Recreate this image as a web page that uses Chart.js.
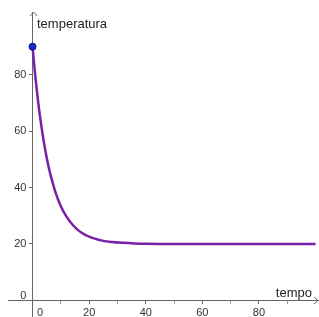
<!DOCTYPE html>
<html>
<head>
<meta charset="utf-8">
<style>
  html, body { margin: 0; padding: 0; background: #ffffff; }
  #wrap { width: 319px; height: 317px; position: relative; }
</style>
<script src="https://cdn.jsdelivr.net/npm/chart.js@4/dist/chart.umd.min.js"></script>
</head>
<body>
<div id="wrap"><canvas id="c"></canvas></div>
<script>
// Data
const tempo = [0, 1, 2, 3, 4, 5, 6, 7, 8, 10, 12, 14, 16, 18, 20, 22, 25, 28, 32, 36, 40, 50, 60, 70, 80, 90, 100];
const temperatura = [90, 79.4, 70.3, 62.7, 56.2, 50.7, 46.0, 42.1, 38.7, 33.4, 29.7, 27.0, 25.0, 23.6, 22.6, 21.9, 21.1, 20.7, 20.4, 20.2, 20.1, 20.0, 20.0, 20.0, 20.0, 20.0, 20.0];
const puntoTempo = [0];
const puntoTemperatura = [90];
const xTickValues = [0, 10, 20, 30, 40, 50, 60, 70, 80, 90];
const xTickLabels = ['     0', '', '20', '', '40', '', '60', '', '80', ''];
const yTickValues = [0, 20, 40, 60, 80];
const yTickLabels = [['0  ', ''], '20  ', '40  ', '60  ', '80  '];
const xTitle = 'tempo';
const yTitle = 'temperatura';

const AXIS = '#666666';
const FONT = "'Liberation Sans', Arial, sans-serif";

const curve = tempo.map((t, i) => ({ x: t, y: temperatura[i] }));
const punto = puntoTempo.map((t, i) => ({ x: t, y: puntoTemperatura[i] }));

function noSpace(s, horizontal) {
  if (horizontal) { s.height = 0; } else { s.width = 0; }
  s.paddingLeft = 0; s.paddingRight = 0; s.paddingTop = 0; s.paddingBottom = 0;
}

const decor = {
  id: 'decor',
  afterDraw(chart) {
    const ctx = chart.ctx;
    const xs = chart.scales.x, ys = chart.scales.y;
    const ca = chart.chartArea;
    const ox = Math.round(xs.getPixelForValue(0)) + 0.5;
    const oy = Math.round(ys.getPixelForValue(0)) + 0.5;
    ctx.save();
    ctx.strokeStyle = AXIS;
    ctx.lineWidth = 1;
    // arrow at top of y axis
    ctx.beginPath();
    ctx.moveTo(ox - 3.5, ca.top + 4);
    ctx.lineTo(ox, ca.top);
    ctx.lineTo(ox + 3.5, ca.top + 4);
    ctx.stroke();
    // arrow at right of x axis
    ctx.beginPath();
    ctx.moveTo(ca.right - 5, oy - 3.5);
    ctx.lineTo(ca.right - 1, oy);
    ctx.lineTo(ca.right - 5, oy + 3.5);
    ctx.stroke();
    // axis titles
    ctx.fillStyle = '#222222';
    ctx.font = '13px ' + FONT;
    ctx.textBaseline = 'alphabetic';
    ctx.textAlign = 'left';
    ctx.fillText(yTitle, ox + 3.5, 28);
    ctx.textAlign = 'right';
    ctx.fillText(xTitle, ca.right - 7, oy - 3.5);
    ctx.restore();
  }
};

new Chart(document.getElementById('c'), {
  type: 'scatter',
  data: {
    datasets: [
      {
        data: curve,
        showLine: true,
        borderColor: '#7b1fa8',
        borderWidth: 2.5,
        pointRadius: 0,
        cubicInterpolationMode: 'monotone',
        fill: false,
        order: 2
      },
      {
        data: punto,
        showLine: false,
        pointRadius: 3.5,
        pointBackgroundColor: '#1b2bd4',
        pointBorderColor: '#0b0b66',
        pointBorderWidth: 1,
        clip: false,
        order: 1
      }
    ]
  },
  options: {
    responsive: true,
    maintainAspectRatio: false,
    animation: false,
    devicePixelRatio: 1,
    layout: { autoPadding: false, padding: { left: 8, top: 12, right: 0, bottom: 0 } },
    plugins: { legend: { display: false }, tooltip: { enabled: false }, title: { display: false } },
    events: [],
    scales: {
      x: {
        type: 'linear',
        min: -8.66,
        max: 101.2,
        position: { y: 0 },
        afterFit(s) { noSpace(s, true); },
        afterBuildTicks(s) { s.ticks = xTickValues.map(v => ({ value: v })); },
        grid: {
          drawOnChartArea: false,
          drawTicks: true,
          tickLength: 3,
          tickColor: ctx => (ctx.tick && ctx.tick.value % 20 === 0) ? AXIS : '#999999'
        },
        border: { display: true, color: AXIS, width: 1 },
        ticks: {
          autoSkip: false,
          maxRotation: 0,
          padding: 3,
          color: '#333333',
          font: { family: FONT, size: 11 },
          callback: (v) => { const i = xTickValues.indexOf(v); return i >= 0 ? xTickLabels[i] : ''; }
        }
      },
      y: {
        type: 'linear',
        min: -5.9,
        max: 102.3,
        position: { x: 0 },
        afterFit(s) { noSpace(s, false); },
        afterBuildTicks(s) { s.ticks = yTickValues.map(v => ({ value: v })); },
        grid: {
          drawOnChartArea: false,
          drawTicks: true,
          tickLength: 3,
          tickColor: AXIS
        },
        border: { display: true, color: AXIS, width: 1 },
        ticks: {
          autoSkip: false,
          padding: 3,
          color: '#333333',
          font: { family: FONT, size: 11, lineHeight: 0.85 },
          callback: (v) => { const i = yTickValues.indexOf(v); return i >= 0 ? yTickLabels[i] : ''; }
        }
      }
    }
  },
  plugins: [decor]
});
</script>
</body>
</html>
